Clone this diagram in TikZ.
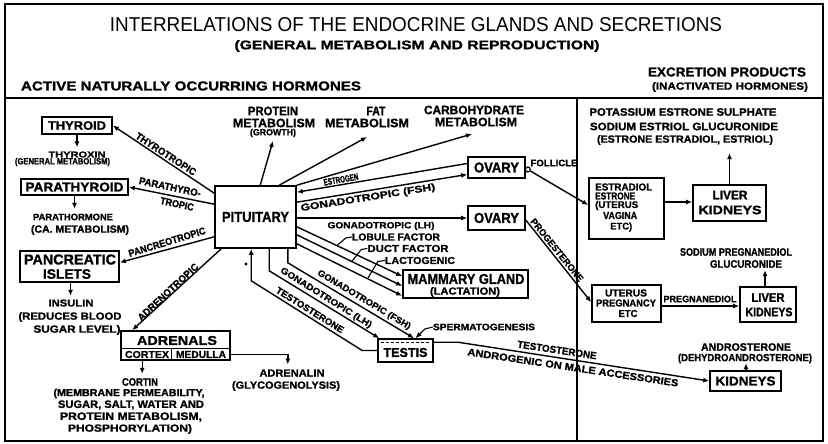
\documentclass[tikz,border=0pt]{standalone}
\usepackage{fontspec}
\setmainfont{Liberation Sans}[BoldFeatures={FakeBold=1.2}]
\usepackage{graphicx}
\usetikzlibrary{arrows.meta,calc}
\newcommand\rz[3]{\resizebox{#1pt}{#2pt}{#3}}
\begin{document}
\begin{tikzpicture}[x=1pt,y=-1pt,
  lab/.style={inner sep=0pt,font=\bfseries},
  gbox/.style={draw,line width=1.6pt,inner sep=0pt,font=\bfseries},
  conn/.style={line width=1.3pt},
  arr/.style={line width=1.4pt,-{Latex[length=6pt,width=5pt]}},
  frame/.style={line width=1.6pt}]
\useasboundingbox (0,0) rectangle (828,444);
\fill[white] (0,0) rectangle (828,444);
\draw[frame] (5,4) rectangle (823,441);
\draw[frame] (5,98) -- (823,98);
\draw[line width=1.3pt] (577,98) -- (577,441);

% header
\node[inner sep=0pt] (title) at (416,25) {\rz{612}{14}{INTERRELATIONS OF THE ENDOCRINE GLANDS AND SECRETIONS}};
\node[lab] (sub) at (417,46) {\rz{365}{9}{(GENERAL METABOLISM AND REPRODUCTION)}};
\node[lab] (active) at (191,86) {\rz{340}{9}{ACTIVE NATURALLY OCCURRING HORMONES}};
\node[lab] (excr) at (727,72) {\rz{158}{9}{EXCRETION PRODUCTS}};
\node[lab] (inact) at (730,87) {\rz{156}{7.5}{(INACTIVATED HORMONES)}};

% boxes
\node[gbox,minimum width=70pt,minimum height=17pt] (thy) at (77,125.5) {\rz{58}{8.5}{THYROID}};
\node[gbox,minimum width=107pt,minimum height=16pt] (para) at (74.5,187) {\rz{98}{9}{PARATHYROID}};
\node[gbox,minimum width=99pt,minimum height=31pt] (panc) at (69.5,266.5) {};
\node[lab] (pancA) at (70,259.5) {\rz{92}{10}{PANCREATIC}};
\node[lab] (pancB) at (67,274) {\rz{48}{9.5}{ISLETS}};
\node[gbox,minimum width=109pt,minimum height=29pt] (adr) at (175.5,345.5) {};
\node[lab] (adrA) at (177,340.5) {\rz{80}{9}{ADRENALS}};
\node[lab] (adrB) at (147,354.5) {\rz{44}{7}{CORTEX}};
\node[lab] (adrC) at (201,354.5) {\rz{50}{7}{MEDULLA}};
\draw[line width=1.3pt] ($(adr.west)+(0,3)$) -- ($(adr.east)+(0,3)$);
\draw[line width=1.3pt] ($(adr.south west)+(51,0)$) -- ++(0,-11.5);
\node[gbox,minimum width=81pt,minimum height=62pt] (pit) at (255.5,217) {\rz{67}{10}{PITUITARY}};
\node[gbox,minimum width=57pt,minimum height=21pt] (ov1) at (496.5,167.5) {\rz{45}{10}{OVARY}};
\node[gbox,minimum width=57pt,minimum height=24pt] (ov2) at (496.5,218) {\rz{45}{10}{OVARY}};
\node[gbox,minimum width=125pt,minimum height=28pt] (mam) at (465.5,284) {};
\node[lab] (mamA) at (466,279) {\rz{117}{10}{MAMMARY GLAND}};
\node[lab] (mamB) at (465,292) {\rz{70}{7.5}{(LACTATION)}};
\node[gbox,minimum width=55pt,minimum height=23pt] (testis) at (405.5,350.5) {};
\node[lab] (testA) at (405.5,352.5) {\rz{44}{9}{TESTIS}};
\draw[line width=1.2pt,dash pattern=on 3pt off 2pt] ($(testis.north west)+(4,4)$) -- ($(testis.north east)+(-4,4)$);
\node[gbox,minimum width=75pt,minimum height=61pt] (estr) at (626.5,208.5) {};
\node[lab,anchor=west] (e1) at (595,187) {\rz{57}{7}{ESTRADIOL}};
\node[lab,anchor=west] (e2) at (595,196) {\rz{40}{7}{ESTRONE}};
\node[lab,anchor=west] (e3) at (595,205.5) {\rz{43}{7}{(UTERUS}};
\node[lab,anchor=west] (e4) at (603,215.5) {\rz{34}{7}{VAGINA}};
\node[lab,anchor=west] (e5) at (610,227) {\rz{22}{7}{ETC)}};
\node[gbox,minimum width=73pt,minimum height=36pt] (liv1) at (729.5,203) {};
\node[lab] (l1a) at (730,195) {\rz{35}{8.5}{LIVER}};
\node[lab] (l1b) at (730,210) {\rz{63}{8.5}{KIDNEYS}};
\node[gbox,minimum width=69pt,minimum height=37pt] (ut) at (626.5,303.5) {};
\node[lab] (u1) at (626,293) {\rz{42}{7}{UTERUS}};
\node[lab] (u2) at (626,303) {\rz{60}{7}{PREGNANCY}};
\node[lab] (u3) at (628,313.5) {\rz{19}{7}{ETC}};
\node[gbox,minimum width=56pt,minimum height=35pt] (liv2) at (768,304.5) {};
\node[lab] (l2a) at (768,297.5) {\rz{33}{8.5}{LIVER}};
\node[lab] (l2b) at (769,312) {\rz{47}{8.5}{KIDNEYS}};
\node[gbox,minimum width=71pt,minimum height=20pt] (kid) at (745.5,381) {\rz{60}{9}{KIDNEYS}};

% free texts, left column
\node[lab] (thyx) at (77,154.5) {\rz{57}{6}{THYROXIN}};
\node[lab] (genm) at (62.5,162) {\rz{95}{6.5}{(GENERAL METABOLISM)}};
\node[lab] (parh) at (73,217) {\rz{80}{6.5}{PARATHORMONE}};
\node[lab] (cam) at (80,230) {\rz{98}{7.5}{(CA. METABOLISM)}};
\node[lab] (ins) at (71,303) {\rz{45}{7}{INSULIN}};
\node[lab] (red) at (70,317) {\rz{103}{7.5}{(REDUCES BLOOD}};
\node[lab] (sug) at (77,330) {\rz{87}{7.5}{SUGAR LEVEL)}};
\node[lab] (cort) at (140,382) {\rz{36}{7.5}{CORTIN}};
\node[lab] (memb) at (129,393.5) {\rz{151}{7.5}{(MEMBRANE PERMEABILITY,}};
\node[lab] (salt) at (131,405) {\rz{146}{7.5}{SUGAR, SALT, WATER AND}};
\node[lab] (prmet) at (131,417) {\rz{142}{7.5}{PROTEIN METABOLISM,}};
\node[lab] (phos) at (130,429) {\rz{124}{7.5}{PHOSPHORYLATION)}};
\node[lab] (adrn) at (292,373) {\rz{65}{7}{ADRENALIN}};
\node[lab] (glyc) at (286,386) {\rz{108}{7.5}{(GLYCOGENOLYSIS)}};

% metabolism texts
\node[lab] (protA) at (273,111) {\rz{50}{8.5}{PROTEIN}};
\node[lab] (protB) at (274,123) {\rz{82}{8.5}{METABOLISM}};
\node[lab] (protC) at (273,133) {\rz{46}{6.5}{(GROWTH)}};
\node[lab] (fatA) at (376,111) {\rz{19}{8.5}{FAT}};
\node[lab] (fatB) at (367,123) {\rz{84}{8.5}{METABOLISM}};
\node[lab] (carA) at (474,110) {\rz{100}{8.5}{CARBOHYDRATE}};
\node[lab] (carB) at (476,122) {\rz{82}{8.5}{METABOLISM}};

% right column texts
\node[lab] (pot) at (683,112) {\rz{187}{7.5}{POTASSIUM ESTRONE SULPHATE}};
\node[lab] (sod) at (684,126.5) {\rz{188}{7.5}{SODIUM ESTRIOL GLUCURONIDE}};
\node[lab] (estx) at (685,140) {\rz{176}{7.5}{(ESTRONE ESTRADIOL, ESTRIOL)}};
\node[lab] (foll) at (554,163) {\rz{47}{6.5}{FOLLICLE}};
\node[lab] (sodp) at (736,252) {\rz{112}{7.5}{SODIUM PREGNANEDIOL}};
\node[lab] (gluc) at (746,264) {\rz{72}{7.5}{GLUCURONIDE}};
\node[lab] (pregl) at (700,299) {\rz{73}{6.5}{PREGNANEDIOL}};
\node[lab] (andro) at (746,347) {\rz{90}{7.5}{ANDROSTERONE}};
\node[lab] (dehy) at (745,358.5) {\rz{134}{7.5}{(DEHYDROANDROSTERONE)}};
\node[lab] (sperm) at (484,327) {\rz{102}{6.5}{SPERMATOGENESIS}};

% connector labels
\node[lab,rotate=-33] (lthy) at (166,154) {\rz{70}{7}{THYROTROPIC}};
\node[lab,rotate=-12] (lpar1) at (170,187) {\rz{63}{7}{PARATHYRO-}};
\node[lab,rotate=-12] (lpar2) at (177,204) {\rz{34}{7}{TROPIC}};
\node[lab,rotate=17] (lpan) at (167,242) {\rz{80}{7}{PANCREOTROPIC}};
\node[lab,rotate=43] (ladr) at (168,292) {\rz{79}{7}{ADRENOTROPIC}};
\node[lab,rotate=10] (lest) at (341,179.5) {\rz{35}{6.5}{ESTROGEN}};
\node[lab,rotate=9] (lfsh1) at (368,198) {\rz{136}{7}{GONADOTROPIC (FSH)}};
\node[lab] (llh1) at (381,226) {\rz{107}{6.5}{GONADOTROPIC (LH)}};
\node[lab] (lob) at (396,237) {\rz{88}{7}{LOBULE FACTOR}};
\node[lab] (duct) at (408,248.5) {\rz{81}{7}{DUCT FACTOR}};
\node[lab] (lact) at (420,260.5) {\rz{70}{7}{LACTOGENIC}};
\node[lab,rotate=-31] (lfsh2) at (364,300) {\rz{107}{6.5}{GONADOTROPIC (FSH)}};
\node[lab,rotate=-32] (llh2) at (326,298) {\rz{106}{6.5}{GONADOTROPIC (LH)}};
\node[lab,rotate=-32] (ltes1) at (310,310) {\rz{78}{6.5}{TESTOSTERONE}};
\node[lab,rotate=-51] (lprog) at (557,250) {\rz{78}{6.5}{PROGESTERONE}};
\node[lab,rotate=-8.5] (ltes2) at (557,350) {\rz{80}{7}{TESTOSTERONE}};
\node[lab,rotate=-8.5] (landr) at (573,367.5) {\rz{213}{7}{ANDROGENIC ON MALE ACCESSORIES}};

% connectors from pituitary
\draw[arr] ($(pit.north west)+(0,8)$) -- (thy.east);
\draw[arr] ($(pit.north west)+(0,19)$) -- (para.east);
\draw[arr] ($(pit.south west)+(0,-12)$) -- ($(panc.east)+(0,-4)$);
\draw[arr] ($(pit.south west)+(7,0)$) -- ($(adr.north west)+(12,0)$);
\draw[arr] ($(pit.north west)+(46,0)$) -- ($(protC)+(0,8)$);
\draw[arr] ($(pit.north west)+(65,0)$) -- ($(fatB)+(0,14)$);
\draw[arr] (pit.north east) -- ($(carB)+(-4,12)$);
\draw[arr] ($(ov1.west)+(0,-4)$) -- ($(pit.north east)+(0,7)$);
\draw[arr] ($(pit.north east)+(0,17)$) -- ($(ov1.west)+(0,7)$);
\draw[arr] ($(pit.east)+(0,1)$) -- (ov2.west);
\draw[arr] ($(pit.south east)+(0,-22)$) -- ($(mam.north west)+(0,7)$);
\draw[arr] ($(pit.south east)+(0,-14)$) -- ($(mam.west)+(0,2)$);
\draw[arr] ($(pit.south east)+(0,-5)$) -- ($(mam.south west)+(0,-3)$);
\draw[arr] ($(pit.south east)+(-9,0)$) -- ++(0,14) -- ($(testis.north)+(8.5,0)$);
\draw[arr] ($(pit.south west)+(55,0)$) -- ++(0,22) -- ($(testis.north west)+(2,0)$);
\draw[arr] (testis.west) -- ++(-15,0) -- ($(pit.south west)+(37,32)$) -- ($(pit.south west)+(37,0)$);
\fill (246,264) circle (1.6pt);

% gland outputs
\draw[arr] (thy.south) -- ++(0,12.5);
\draw[arr] (para.south) -- ++(0,13);
\draw[arr] ($(panc.south)+(1,0)$) -- ++(0,13);
\draw[arr] ($(adr.south west)+(22,0)$) -- ++(0,13);
\draw[arr] ($(adr.east)+(0,9)$) -- ++(57,0) -- ++(0,10);

% leaders
\coordinate (pA) at (337,245.5);
\coordinate (pB) at (352,261.2);
\coordinate (pC) at (368,278);
\draw[conn,line width=1.1pt] (lob.west) -- ++(-6,1) -- (pA);
\draw[conn,line width=1.1pt] (duct.west) -- ++(-6,1) -- (pB);
\draw[conn,line width=1.1pt] (lact.west) -- ++(-7,1) -- (pC);
\draw[arr,line width=1.1pt] (sperm.west) -- ++(-8,2) -- ($(testis.north)+(10,0)$);

% right column
\node[circle,draw,line width=1.2pt,inner sep=0pt,minimum size=5pt] (fc) at ($(ov1.east)+(2,2)$) {};
\draw[arr] (fc) -- ($(estr.west)+(0,-3.5)$);
\draw[arr] ($(estr.east)+(0,-6.5)$) -- ($(liv1.west)+(0,-1)$);
\draw[arr] (liv1.north) -- ++(0,-31);
\draw[arr] ($(ov2.east)+(0,2)$) -- ($(ut.north west)+(0,18)$);
\draw[arr] ($(ut.east)+(0,2.5)$) -- ($(liv2.west)+(0,1.5)$);
\draw[arr] ($(liv2.north)+(-3,0)$) -- ++(0,-16);
\draw[arr] ($(testis.north east)+(0,4)$) -- ++(24,0) -- (kid.west);
\draw[arr] ($(kid.north)+(0.5,0)$) -- ++(0,-7);
\end{tikzpicture}
\end{document}
